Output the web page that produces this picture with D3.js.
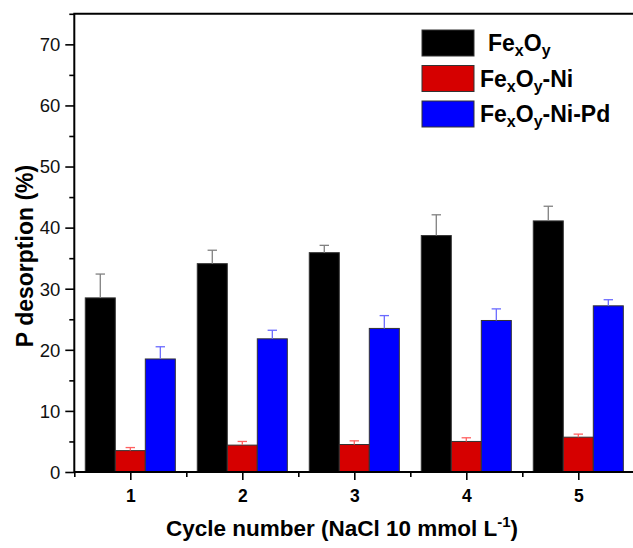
<!DOCTYPE html>
<html><head><meta charset="utf-8">
<script src="https://cdn.jsdelivr.net/npm/d3@7"></script>
<style>body{margin:0;background:#fff}svg{display:block;font-family:"Liberation Sans",Arial,sans-serif}</style>
</head><body><svg id="c" width="633" height="548"></svg>
<script>
const cycles = [1, 2, 3, 4, 5];
const seriesNames = ["FexOy", "FexOy-Ni", "FexOy-Ni-Pd"];
const fexoy = [28.5, 34.1, 35.9, 38.7, 41.1];
const fexoyErr = [3.9, 2.2, 1.2, 3.4, 2.4];
const fexoyNi = [3.5, 4.4, 4.5, 5.0, 5.7];
const fexoyNiErr = [0.5, 0.6, 0.6, 0.6, 0.5];
const fexoyNiPd = [18.5, 21.8, 23.5, 24.8, 27.2];
const fexoyNiPdErr = [2.0, 1.4, 2.1, 1.9, 1.0];
const yTicks = [0, 10, 20, 30, 40, 50, 60, 70];
const colors = ["#000000", "#d60000", "#0000ff"];
const errColors = ["#808080", "#ff6060", "#6a6aff"];

const series = [
  {vals: fexoy, err: fexoyErr},
  {vals: fexoyNi, err: fexoyNiErr},
  {vals: fexoyNiPd, err: fexoyNiPdErr}
];

const svg = d3.select("#c");
const L = 74.3, R = 634.3, T = 13.8, B = 472;
const x = d3.scaleLinear().domain([0.5, 5.5]).range([L, R]);
const y = d3.scaleLinear().domain([0, 75]).range([B, T]);
const bw = x(0.268) - x(0);

// bars
series.forEach((s, si) => {
  const g = svg.append("g");
  g.selectAll("rect").data(s.vals).join("rect")
    .attr("x", (d, i) => x(cycles[i]) + (si - 1.5) * bw)
    .attr("y", d => y(d))
    .attr("width", bw)
    .attr("height", d => y(0) - y(d))
    .attr("fill", colors[si])
    .attr("stroke", "#333").attr("stroke-width", 1);
  const eg = svg.append("g").attr("stroke", errColors[si]).attr("stroke-width", 1.3);
  s.vals.forEach((d, i) => {
    const cx = x(cycles[i]) + (si - 1) * bw;
    eg.append("line").attr("x1", cx).attr("x2", cx).attr("y1", y(d)).attr("y2", y(d + s.err[i]));
    eg.append("line").attr("x1", cx - 4.7).attr("x2", cx + 4.7).attr("y1", y(d + s.err[i])).attr("y2", y(d + s.err[i]));
  });
});

// axes
const yAxis = d3.axisLeft(y).tickValues(yTicks).tickSize(9).tickPadding(5).tickFormat(d3.format("d"));
const gy = svg.append("g").attr("transform", `translate(${L},0)`).call(yAxis);
gy.select(".domain").remove();
gy.selectAll(".tick line").attr("stroke-width", 1.6);
gy.selectAll("text").attr("font-size", 18.5).attr("font-family", "Liberation Sans, Arial").attr("fill", "#111").attr("dy", "0.34em");
const yMinor = d3.axisLeft(y).tickValues(yTicks.map(v => v + 5)).tickSize(5).tickFormat("");
const gym = svg.append("g").attr("transform", `translate(${L},0)`).call(yMinor);
gym.select(".domain").remove();
gym.selectAll(".tick line").attr("stroke-width", 1.6);

const xAxis = d3.axisBottom(x).tickValues(cycles).tickSize(8).tickPadding(10).tickFormat(d3.format("d"));
const gx = svg.append("g").attr("transform", `translate(0,${B})`).call(xAxis);
gx.select(".domain").remove();
gx.selectAll(".tick line").attr("stroke-width", 1.6);
gx.selectAll("text").attr("font-size", 17.5).attr("font-weight", "bold").attr("font-family", "Liberation Sans, Arial").attr("fill", "#000");
const xMinor = d3.axisBottom(x).tickValues([0.5, 1.5, 2.5, 3.5, 4.5]).tickSize(5).tickFormat("");
const gxm = svg.append("g").attr("transform", `translate(0,${B})`).call(xMinor);
gxm.select(".domain").remove();
gxm.selectAll(".tick line").attr("stroke-width", 1.6);

// frame (right side falls outside the picture)
svg.append("path").attr("d", `M${R + 5},${B}H${L}V${T}H${R + 5}`).attr("fill", "none").attr("stroke", "#000").attr("stroke-width", 2);

// axis titles
svg.append("text").attr("transform", "translate(33,256) rotate(-90)").attr("text-anchor", "middle")
  .attr("font-size", 23).attr("font-weight", "bold").text("P desorption (%)");
const xt = svg.append("text").attr("x", 342).attr("y", 536).attr("text-anchor", "middle")
  .attr("font-size", 22.5).attr("font-weight", "bold");
xt.append("tspan").text("Cycle number (NaCl 10 mmol L");
xt.append("tspan").attr("font-size", 15).attr("dy", -9).text("-1");
xt.append("tspan").attr("dy", 9).text(")");

// legend
const legY = [30, 65.5, 101];
const legTX = [488, 480, 480];
seriesNames.forEach((n, i) => {
  svg.append("rect").attr("x", 422).attr("y", legY[i]).attr("width", 52).attr("height", 26)
    .attr("fill", colors[i]).attr("stroke", "#333").attr("stroke-width", 1);
  const t = svg.append("text").attr("x", legTX[i]).attr("y", legY[i] + 21).attr("font-size", 23).attr("font-weight", "bold");
  const rest = n.slice(5);
  t.append("tspan").text("Fe");
  t.append("tspan").attr("font-size", 16).attr("dy", 5).text("x");
  t.append("tspan").attr("dy", -5).text("O");
  t.append("tspan").attr("font-size", 16).attr("dy", 5).text("y");
  if (rest) t.append("tspan").attr("dy", -5).text(rest);
});
</script></body></html>
